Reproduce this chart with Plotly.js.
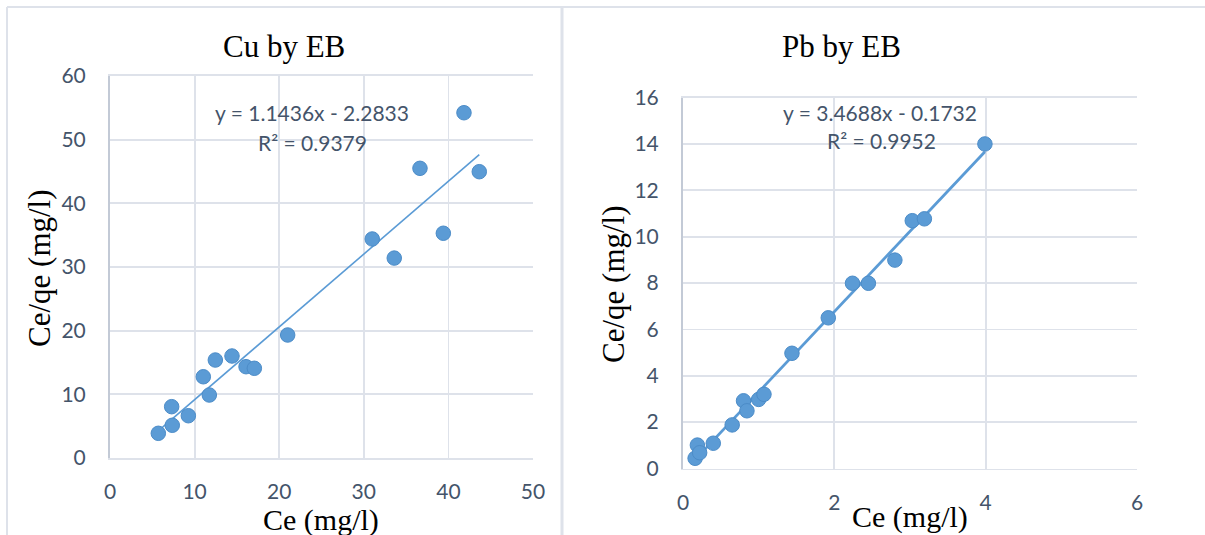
<!DOCTYPE html>
<html>
<head>
<meta charset="utf-8">
<script src="https://cdn.plot.ly/plotly-3.0.1.min.js"></script>
<style>
  html, body { margin: 0; padding: 0; background: #ffffff; }
  #chart { width: 1205px; height: 535px; }
</style>
</head>
<body>
<div id="chart"></div>
<script>
// ---- Data ----
const cuCe   = [5.71, 7.36, 7.29, 9.26, 11.03, 11.74, 12.45, 14.42, 16.08, 17.06, 21.0, 31.0, 33.6, 36.64, 39.4, 41.84, 43.65];
const cuCeQe = [3.88, 5.14, 8.06, 6.64, 12.76, 9.89, 15.39, 16.02, 14.34, 14.09, 19.32, 34.4, 31.4, 45.5, 35.3, 54.23, 44.97];

const pbCe   = [0.16, 0.19, 0.22, 0.40, 0.65, 0.80, 0.845, 1.0, 1.07, 1.44, 1.92, 2.24, 2.45, 2.80, 3.03, 3.19, 3.99];
const pbCeQe = [0.44, 1.01, 0.68, 1.09, 1.88, 2.92, 2.49, 2.98, 3.2, 4.97, 6.50, 7.99, 7.99, 8.99, 10.69, 10.77, 14.0];

// Linear trendline coefficients shown on the chart
const cuSlope = 1.1436, cuIntercept = -2.2833, cuR2 = "0.9379";
const pbSlope = 3.4688, pbIntercept = -0.1732, pbR2 = "0.9952";

const titles = ["Cu by EB", "Pb by EB"];
const xTitle = "Ce (mg/l)";
const yTitle = "Ce/qe (mg/l)";

// ---- Helpers ----
function fitLine(xs, m, b) {
  const x0 = Math.min(...xs), x1 = Math.max(...xs);
  return { x: [x0, x1], y: [m * x0 + b, m * x1 + b] };
}
const W = 1205, H = 535;
const px = v => v / W;
const py = v => 1 - v / H;

const blue = '#5B9BD5';
const gridC = '#DEE2EA';
const tickC = '#44546A';
const tickFont = { family: 'Lato, "Open Sans", sans-serif', size: 21, color: tickC };
const serif = 'Liberation Serif, "Times New Roman", serif';

const cuFit = fitLine(cuCe, cuSlope, cuIntercept);
const pbFit = fitLine(pbCe, pbSlope, pbIntercept);

const marker = { color: blue, size: 14.5, line: { color: '#4C8CC8', width: 1 } };

const data = [
  { x: cuFit.x, y: cuFit.y, mode: 'lines', line: { color: blue, width: 1.6 }, xaxis: 'x', yaxis: 'y', hoverinfo: 'skip' },
  { x: cuCe, y: cuCeQe, mode: 'markers', marker: marker, xaxis: 'x', yaxis: 'y' },
  { x: pbFit.x, y: pbFit.y, mode: 'lines', line: { color: blue, width: 2.8 }, xaxis: 'x2', yaxis: 'y2', hoverinfo: 'skip' },
  { x: pbCe, y: pbCeQe, mode: 'markers', marker: marker, xaxis: 'x2', yaxis: 'y2' }
];

function xAx(domain, range, dtick, anchor) {
  return {
    domain: domain, range: range, dtick: dtick, anchor: anchor,
    showgrid: true, gridcolor: gridC, gridwidth: 1.8,
    zeroline: false, showline: true, linecolor: gridC, linewidth: 1.8, mirror: true,
    ticks: 'outside', ticklen: 14, tickcolor: 'rgba(0,0,0,0)',
    tickfont: tickFont, fixedrange: true
  };
}
function yAx(domain, range, dtick, anchor) {
  return {
    domain: domain, range: range, dtick: dtick, anchor: anchor,
    showgrid: true, gridcolor: gridC, gridwidth: 1.8,
    zeroline: false, showline: true, linecolor: '#C3CAD6', linewidth: 2,
    ticks: 'outside', ticklen: 18, tickcolor: 'rgba(0,0,0,0)',
    tickfont: tickFont, fixedrange: true
  };
}

const layout = {
  width: W, height: H,
  margin: { l: 0, r: 0, t: 0, b: 0 },
  paper_bgcolor: '#ffffff', plot_bgcolor: '#ffffff',
  showlegend: false,
  xaxis:  xAx([px(110), px(533)], [0, 50], 10, 'y'),
  yaxis:  yAx([1 - 458 / H, 1 - 76 / H], [0, 60], 10, 'x'),
  xaxis2: xAx([px(683), px(1137)], [0, 6], 2, 'y2'),
  yaxis2: yAx([1 - 468.5 / H, 1 - 97.6 / H], [0, 16], 2, 'x2'),
  shapes: [
    { type: 'line', xref: 'paper', yref: 'paper', x0: px(7), x1: px(7), y0: 0, y1: py(7), line: { color: gridC, width: 2 } },
    { type: 'line', xref: 'paper', yref: 'paper', x0: px(7), x1: 1, y0: py(7), y1: py(7), line: { color: gridC, width: 2 } },
    { type: 'line', xref: 'paper', yref: 'paper', x0: px(562), x1: px(562), y0: 0, y1: py(7), line: { color: gridC, width: 3 } }
  ],
  annotations: [
    { text: titles[0], xref: 'paper', yref: 'paper', x: px(284), y: py(46), showarrow: false, xanchor: 'center', yanchor: 'middle', font: { family: serif, size: 31, color: '#000' } },
    { text: titles[1], xref: 'paper', yref: 'paper', x: px(841), y: py(47), showarrow: false, xanchor: 'center', yanchor: 'middle', font: { family: serif, size: 31, color: '#000' } },
    { text: yTitle, xref: 'paper', yref: 'paper', x: px(39), y: py(268), textangle: -90, showarrow: false, xanchor: 'center', yanchor: 'middle', font: { family: serif, size: 31, color: '#000' } },
    { text: yTitle, xref: 'paper', yref: 'paper', x: px(613), y: py(284), textangle: -90, showarrow: false, xanchor: 'center', yanchor: 'middle', font: { family: serif, size: 31, color: '#000' } },
    { text: xTitle, xref: 'paper', yref: 'paper', x: px(321), y: py(520), showarrow: false, xanchor: 'center', yanchor: 'middle', font: { family: serif, size: 30, color: '#000' } },
    { text: xTitle, xref: 'paper', yref: 'paper', x: px(910), y: py(517), showarrow: false, xanchor: 'center', yanchor: 'middle', font: { family: serif, size: 30, color: '#000' } },
    { text: 'y = ' + cuSlope + 'x - ' + Math.abs(cuIntercept), xref: 'paper', yref: 'paper', x: px(312), y: py(113), showarrow: false, xanchor: 'center', yanchor: 'middle', font: tickFont },
    { text: 'R² = ' + cuR2, xref: 'paper', yref: 'paper', x: px(312), y: py(142), showarrow: false, xanchor: 'center', yanchor: 'middle', font: tickFont },
    { text: 'y = ' + pbSlope + 'x - ' + Math.abs(pbIntercept), xref: 'paper', yref: 'paper', x: px(880), y: py(112), showarrow: false, xanchor: 'center', yanchor: 'middle', font: tickFont },
    { text: 'R² = ' + pbR2, xref: 'paper', yref: 'paper', x: px(881), y: py(140), showarrow: false, xanchor: 'center', yanchor: 'middle', font: tickFont }
  ]
};

Plotly.newPlot('chart', data, layout, { displayModeBar: false, staticPlot: true });
</script>
</body>
</html>
